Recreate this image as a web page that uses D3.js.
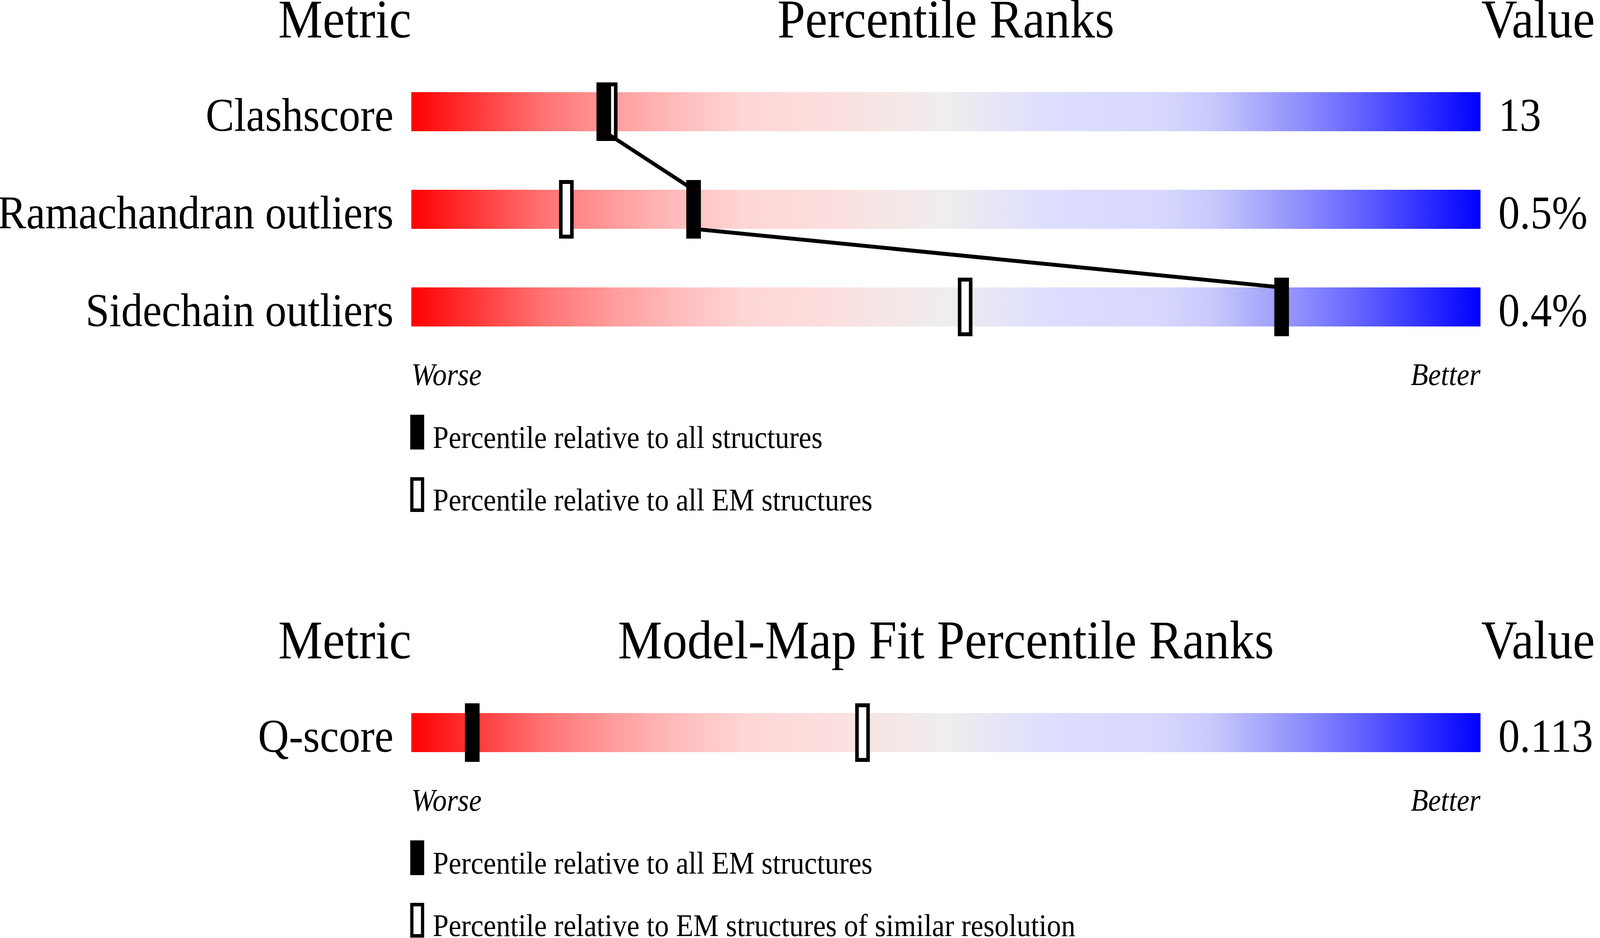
<!DOCTYPE html>
<html>
<head>
<meta charset="utf-8">
<script src="https://cdn.jsdelivr.net/npm/d3@7"></script>
<style>
  html, body { margin: 0; padding: 0; background: #fff; overflow: hidden; width: 100%; height: 100%; }
  svg { display: block; width: 100vw; height: 100vh; }
  text { font-family: "Liberation Serif", "Times New Roman", Times, serif; fill: #000; }
</style>
</head>
<body>
<svg id="chart"></svg>
<script>
// top panel: geometry validation
const geoMetrics = ['Clashscore', 'Ramachandran outliers', 'Sidechain outliers'];
const geoValues = ['13', '0.5%', '0.4%'];
const geoPctAll = [18.0, 26.4, 81.4];
const geoPctEM = [18.6, 14.5, 51.8];
const geoLegend = ['Percentile relative to all structures', 'Percentile relative to all EM structures'];

// bottom panel: model-map fit
const fitMetrics = ['Q-score'];
const fitValues = ['0.113'];
const fitPctEM = [5.7];
const fitPctRes = [42.2];
const fitLegend = ['Percentile relative to all EM structures', 'Percentile relative to EM structures of similar resolution'];

const W = 4485, H = 2402;
const BAR_L = 1153, BAR_R = 4150, BAR_H = 100, ROW = 250;

// the browser caps the viewport width, so the drawing is laid out at the
// reference size and stretched onto whatever viewport we get
const svg = d3.select('#chart').attr('viewBox', `0 0 ${W} ${H}`)
  .attr('preserveAspectRatio', 'none');
const x = d3.scaleLinear().domain([0, 100]).range([BAR_L, BAR_R]);

// red -> pale -> grey -> lavender -> blue slider
const stops = [
  [0, '#ff0000'], [0.12, '#ff7070'], [0.19, '#ff9d9d'], [0.25, '#ffbcbc'],
  [0.31, '#ffd5d5'], [0.39, '#fddede'], [0.5, '#eeeeee'], [0.6, '#ddddff'],
  [0.7, '#d8d8ff'], [0.75, '#c8c8fd'], [0.8, '#a5a5fb'], [0.84, '#8888ff'],
  [0.9, '#5858ff'], [1, '#0000ff'],
];
const grad = svg.append('defs').append('linearGradient').attr('id', 'slider')
  .attr('x1', '0%').attr('x2', '100%').attr('y1', '0%').attr('y2', '0%');
grad.selectAll('stop').data(stops).join('stop')
  .attr('offset', (d) => d[0]).attr('stop-color', (d) => d[1]);

function drawPanel(opts) {
  const { top, title, metrics, values, pctA, pctB, connect, legend } = opts;
  const g = svg.append('g');
  const y = d3.scaleBand().domain(metrics)
    .range([top - 75, top - 75 + metrics.length * ROW])
    .paddingInner(0.6).paddingOuter(0.3);

  const headY = top - 140;
  g.append('text').attr('x', BAR_L).attr('y', headY).attr('text-anchor', 'end')
    .attr('font-size', 140).text('Metric');
  g.append('text').attr('x', (BAR_L + BAR_R) / 2).attr('y', headY).attr('text-anchor', 'middle')
    .attr('font-size', 140).text(title);
  g.append('text').attr('x', BAR_R + 2).attr('y', headY)
    .attr('font-size', 140).text('Value');

  g.selectAll('rect.bar').data(metrics).join('rect').attr('class', 'bar')
    .attr('x', BAR_L).attr('width', BAR_R - BAR_L)
    .attr('y', (d) => y(d)).attr('height', y.bandwidth())
    .attr('fill', 'url(#slider)');

  g.selectAll('text.lbl').data(metrics).join('text').attr('class', 'lbl')
    .attr('x', 1103).attr('y', (d) => y(d) + 99).attr('text-anchor', 'end')
    .attr('font-size', 120).text((d) => d);
  g.selectAll('text.val').data(values).join('text').attr('class', 'val')
    .attr('x', 4200).attr('y', (d, i) => y(metrics[i]) + 99)
    .attr('font-size', 120).text((d) => d);

  // hollow markers
  g.selectAll('rect.hol').data(pctB).join('rect').attr('class', 'hol')
    .attr('x', (d) => x(d) - 15.5).attr('width', 31)
    .attr('y', (d, i) => y(metrics[i]) - 20).attr('height', 140)
    .attr('fill', '#fff').attr('stroke', '#000').attr('stroke-width', 10);

  if (connect) {
    const segs = d3.pairs(pctA.map((p, i) => ({ p, m: metrics[i] })));
    g.selectAll('line.link').data(segs).join('line').attr('class', 'link')
      .attr('x1', (d) => x(d[0].p)).attr('y1', (d) => y(d[0].m) + BAR_H)
      .attr('x2', (d) => x(d[1].p)).attr('y2', (d) => y(d[1].m))
      .attr('stroke', '#000').attr('stroke-width', 10);
  }

  // filled markers
  g.selectAll('rect.fil').data(pctA).join('rect').attr('class', 'fil')
    .attr('x', (d) => x(d) - 20.5).attr('width', 41)
    .attr('y', (d, i) => y(metrics[i]) - 25).attr('height', 150)
    .attr('fill', '#000');

  const last = y(metrics[metrics.length - 1]) + BAR_H;
  const wy = last + 150;
  g.append('text').attr('x', BAR_L).attr('y', wy).attr('font-size', 80)
    .attr('font-style', 'italic').text('Worse');
  g.append('text').attr('x', BAR_R).attr('y', wy).attr('font-size', 80)
    .attr('font-style', 'italic').attr('text-anchor', 'end').text('Better');

  const ly = wy + 76;
  g.append('rect').attr('x', 1150).attr('y', ly).attr('width', 39).attr('height', 89).attr('fill', '#000');
  g.append('rect').attr('x', 1154.5).attr('y', ly + 160 + 4.5).attr('width', 30).attr('height', 80)
    .attr('fill', '#fff').attr('stroke', '#000').attr('stroke-width', 9);
  g.selectAll('text.leg').data(legend).join('text').attr('class', 'leg')
    .attr('x', 1213).attr('y', (d, i) => ly + 85 + i * 160)
    .attr('font-size', 80).text((d) => d);
}

drawPanel({
  top: 236, title: 'Percentile Ranks', metrics: geoMetrics, values: geoValues,
  pctA: geoPctAll, pctB: geoPctEM, connect: true, legend: geoLegend,
});
drawPanel({
  top: 1826, title: 'Model-Map Fit Percentile Ranks', metrics: fitMetrics, values: fitValues,
  pctA: fitPctEM, pctB: fitPctRes, connect: false, legend: fitLegend,
});
</script>
</body>
</html>
